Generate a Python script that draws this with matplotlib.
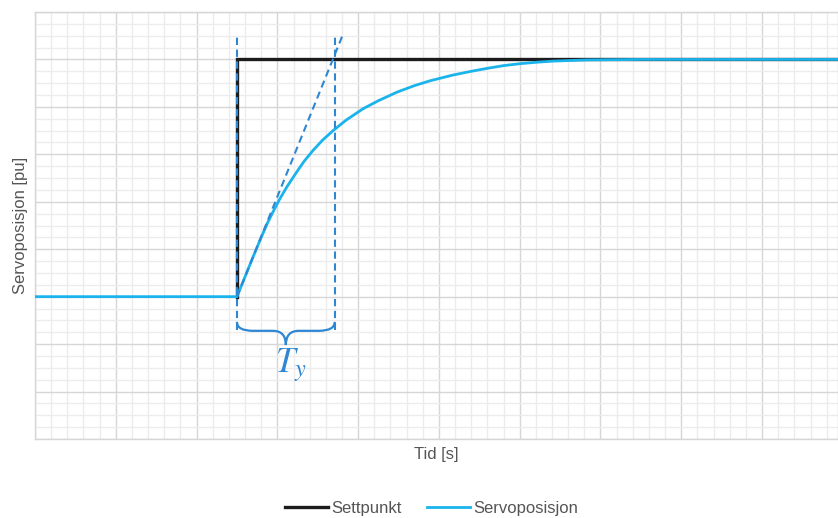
import matplotlib
matplotlib.use("Agg")
import matplotlib.pyplot as plt
import matplotlib.ticker as ticker
from matplotlib.path import Path
from matplotlib.patches import PathPatch

plt.rcParams["font.family"] = ["Liberation Sans", "DejaVu Sans"]
plt.rcParams["mathtext.fontset"] = "stix"

# ── Data ──────────────────────────────────────────────────────────────────────
setpoint_t = [2.5, 2.5, 9.94]
setpoint_y = [3.0, 8.0, 8.0]

servo_t = [0.0, 2.5, 2.6, 2.7, 2.8, 2.88, 2.95, 3.03, 3.12, 3.24, 3.33, 3.44,
           3.56, 3.69, 3.85, 4.06, 4.25, 4.48, 4.7, 4.89, 5.17, 5.4, 5.59, 5.8,
           6.0, 6.2, 6.41, 6.83, 7.5, 9.94]
servo_y = [3.0, 3.0, 3.42, 3.84, 4.25, 4.56, 4.80, 5.06, 5.32, 5.63, 5.85, 6.08,
           6.30, 6.50, 6.72, 6.96, 7.13, 7.31, 7.45, 7.55, 7.67, 7.75, 7.81, 7.87,
           7.91, 7.94, 7.965, 7.99, 8.0, 8.0]

# tangent line and T_y markers
tangent_t = [2.5, 3.81]
tangent_y = [3.0, 8.52]
ty_start, ty_end = 2.5, 3.71
marker_top, marker_bottom = 8.52, 2.30

BLACK = "#1c1c1c"
SERVO = "#1ab3ec"
DASH = "#2f87d3"
TEXT = "#555555"

fig = plt.figure(figsize=(8.38, 5.18), dpi=100, facecolor="white")
ax = fig.add_axes([35 / 838, 79 / 518, 803 / 838, 427 / 518])

ax.plot(setpoint_t, setpoint_y, color=BLACK, lw=2.4, label="Settpunkt", zorder=3,
        solid_joinstyle="miter")
ax.plot(servo_t, servo_y, color=SERVO, lw=2.0, label="Servoposisjon", zorder=4,
        solid_joinstyle="round")

dash_kw = dict(color=DASH, lw=1.5, linestyle=(0, (3.5, 2.2)), zorder=5)
ax.plot(tangent_t, tangent_y, **dash_kw)
ax.plot([ty_start, ty_start], [marker_bottom, marker_top], **dash_kw)
ax.plot([ty_end, ty_end], [marker_bottom, marker_top], **dash_kw)

# curly brace under the T_y interval
mid = (ty_start + ty_end) / 2
yb, ytop, ytip = 2.28, 2.47, 1.98
verts = [
    (ty_start, ytop), (ty_start, yb), (ty_start + 0.2, yb),
    (mid - 0.16, yb),
    (mid, yb), (mid, ytip),
    (mid, yb), (mid + 0.16, yb),
    (ty_end - 0.2, yb),
    (ty_end, yb), (ty_end, ytop),
]
codes = [Path.MOVETO, Path.CURVE3, Path.CURVE3, Path.LINETO,
         Path.CURVE3, Path.CURVE3, Path.CURVE3, Path.CURVE3,
         Path.LINETO, Path.CURVE3, Path.CURVE3]
ax.add_patch(PathPatch(Path(verts, codes), facecolor="none", edgecolor=DASH,
                       lw=1.6, zorder=5))
ax.text(mid + 0.06, 1.55, r"$T_y$", color=DASH, fontsize=25, ha="center",
        va="center", zorder=6)

# ── Axes / grid ───────────────────────────────────────────────────────────────
ax.set_xlim(0, 9.94)
ax.set_ylim(0, 9)
ax.xaxis.set_major_locator(ticker.MultipleLocator(1))
ax.xaxis.set_minor_locator(ticker.MultipleLocator(0.2))
ax.yaxis.set_major_locator(ticker.MultipleLocator(1))
ax.yaxis.set_minor_locator(ticker.MultipleLocator(0.25))
ax.grid(which="major", color="#d6d6d6", lw=1.0, zorder=0)
ax.grid(which="minor", color="#ececec", lw=1.0, zorder=0)
ax.set_axisbelow(True)
ax.tick_params(which="both", length=0, labelbottom=False, labelleft=False)
for s in ax.spines.values():
    s.set_color("#d6d6d6")
    s.set_linewidth(1.0)

ax.set_xlabel("Tid [s]", fontsize=12, color=TEXT, labelpad=6)
ax.set_ylabel("Servoposisjon [pu]", fontsize=12, color=TEXT, labelpad=5)

fig.legend(loc="center", bbox_to_anchor=(0.515, 0.018), ncol=2, frameon=False,
           fontsize=12, labelcolor=TEXT, handlelength=2.6, handletextpad=0.2,
           columnspacing=1.5)

fig.savefig("out.png", dpi=100, facecolor="white")
